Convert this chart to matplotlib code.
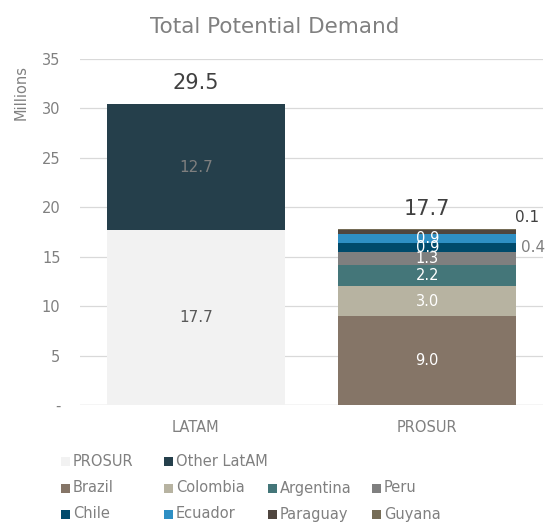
import matplotlib
matplotlib.use("Agg")
import matplotlib.pyplot as plt
from matplotlib.patches import Rectangle

plt.rcParams['font.family'] = ['DejaVu Sans']

categories = ["LATAM", "PROSUR"]

# LATAM bar: PROSUR share + rest of Latin America
latam_series = ["PROSUR", "Other LatAM"]
latam_values = [17.7, 12.7]
latam_colors = ["#f2f2f2", "#253f4b"]
latam_label_colors = ["#595959", "#7f7f7f"]
latam_total = 29.5

# PROSUR bar: breakdown by country
countries = ["Brazil", "Colombia", "Argentina", "Peru", "Chile", "Ecuador", "Paraguay", "Guyana"]
country_values = [9.0, 3.0, 2.2, 1.3, 0.9, 0.9, 0.4, 0.1]
country_colors = ["#857567", "#b7b3a1", "#447679", "#7f7f7f", "#004a6b", "#2e8fc4", "#4f463f", "#756c56"]
prosur_total = 17.7

yticks = [0, 5, 10, 15, 20, 25, 30, 35]
ytick_labels = ["-", "5", "10", "15", "20", "25", "30", "35"]

fig = plt.figure(figsize=(5.48, 5.24), dpi=100)
ax = fig.add_axes([80 / 548, 1 - 405 / 524, 463 / 548, 346 / 524])

width = 0.77
gray = "#808080"

# LATAM stack
bottom = 0.0
for v, c, lc in zip(latam_values, latam_colors, latam_label_colors):
    ax.bar(0, v, width, bottom=bottom, color=c, zorder=2)
    ax.text(0, bottom + v / 2, f"{v:.1f}", ha="center", va="center",
            color=lc, fontsize=11, zorder=3)
    bottom += v
ax.annotate(f"{latam_total:.1f}", (0, bottom), xytext=(0, 8), textcoords="offset points",
            ha="center", va="bottom", fontsize=15, color="#404040")

# PROSUR stack
bottom = 0.0
segments = {}
for name, v, c in zip(countries, country_values, country_colors):
    ax.bar(1, v, width, bottom=bottom, color=c, zorder=2)
    if name not in ("Paraguay", "Guyana"):
        ax.text(1, bottom + v / 2, f"{v:.1f}", ha="center", va="center",
                color="white", fontsize=10.5, zorder=3)
    segments[name] = (bottom, v)
    bottom += v

# the two thinnest segments are labelled beside the bar
pb, pv = segments["Paraguay"]
gb, gv = segments["Guyana"]
ax.annotate(f"{gv:.1f}", (1 + width / 2, gb + gv),
            xytext=(8, 3), textcoords="offset points", ha="center", va="bottom",
            fontsize=11, color="#404040")
ax.annotate(f"{pv:.1f}", (1 + width / 2, pb + pv / 2),
            xytext=(12, -11), textcoords="offset points", ha="center", va="center",
            fontsize=11, color="#7f7f7f")
ax.annotate(f"{prosur_total:.1f}", (1, bottom), xytext=(0, 7), textcoords="offset points",
            ha="center", va="bottom", fontsize=15, color="#404040")

ax.set_xlim(-0.5, 1.5)
ax.set_ylim(0, 35)
ax.set_yticks(yticks)
ax.set_yticklabels(ytick_labels)
ax.set_xticks([0, 1])
ax.set_xticklabels(categories)
ax.tick_params(axis="both", length=0, colors=gray, labelsize=10.5)
ax.tick_params(axis="y", pad=14)
ax.tick_params(axis="x", pad=11)
ax.grid(axis="y", color="#d9d9d9", linewidth=0.9, zorder=0)
for s in ax.spines.values():
    s.set_visible(False)
ax.axhline(0, color="#d9d9d9", linewidth=0.9, zorder=1)

fig.text(21 / 548, 1 - 92 / 524, "Millions", rotation=90, ha="center", va="center",
         color=gray, fontsize=10.5)
fig.text(275 / 548, 1 - 27 / 524, "Total Potential Demand", ha="center", va="center",
         color=gray, fontsize=15.5)

# Legend grid
legend_rows = [
    [(latam_series[0], latam_colors[0]), (latam_series[1], latam_colors[1])],
    list(zip(countries[0:4], country_colors[0:4])),
    list(zip(countries[4:8], country_colors[4:8])),
]
col_x = [61, 164, 268, 372]
row_y = [461, 488, 514]
sq = 9
for ry, row in zip(row_y, legend_rows):
    for cx, (name, col) in zip(col_x, row):
        fig.patches.append(Rectangle((cx / 548, 1 - (ry + sq / 2) / 524), sq / 548, sq / 524,
                                     transform=fig.transFigure, facecolor=col,
                                     edgecolor="none", figure=fig))
        fig.text((cx + sq + 3) / 548, 1 - (ry + 4.5) / 524, name, ha="left", va="baseline",
                 color=gray, fontsize=10.5)

fig.savefig("out.png", dpi=100)
